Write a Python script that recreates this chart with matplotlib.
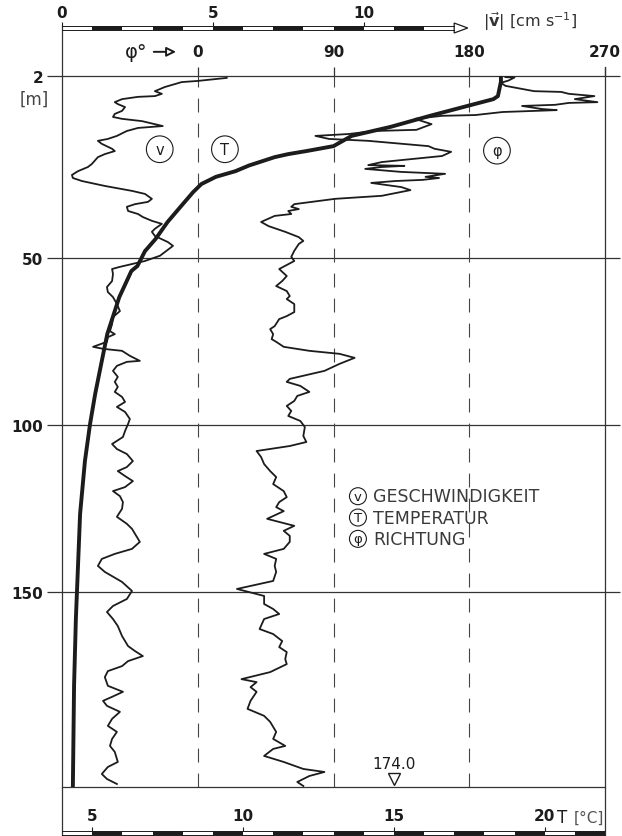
import matplotlib
matplotlib.use('agg')
import matplotlib.pyplot as plt
import numpy as np
from matplotlib.patches import Rectangle, Polygon

plt.rcParams['font.family'] = ['DejaVu Sans']
plt.rcParams['lines.scale_dashes'] = False
INK = '#1c1c1c'

# ---- data ----
# temperature, thick smooth curve
T_depth = [2.2, 3.5, 5.4, 7.3, 8.1, 10.4, 12.5, 15.4, 17.8, 20.5,
           21.8, 22.6, 23.4, 24.7, 25.6, 27.1, 28.6, 30.5, 32.6, 36.3,
           40.5, 45.0, 48.2, 52.4, 53.9, 61.7, 72.8, 81.7, 90.7, 99.7,
           110.8, 126.6, 158.0, 178.0, 208.4]
T_temp = [18.55, 18.55, 18.5, 18.45, 18.3, 17.2, 16.2, 14.9, 13.6, 13.0,
          12.1, 11.5, 11.05, 10.55, 10.2, 9.75, 9.1, 8.62, 8.35, 7.95,
          7.5, 7.1, 6.75, 6.5, 6.3, 5.9, 5.5, 5.3, 5.1, 4.93,
          4.76, 4.6, 4.46, 4.4, 4.36]

# current speed |v| (cm/s)
v_depth = [2.5, 3.3, 3.6, 4.9, 6.0, 6.7, 7.3, 7.5, 8.1, 8.9,
           9.4, 10.2, 11.2, 12.0, 12.8, 13.3, 13.9, 14.7, 15.2, 15.7,
           16.5, 17.8, 18.6, 19.1, 19.9, 21.2, 21.8, 22.6, 23.4, 25.2,
           26.0, 27.1, 28.1, 28.9, 29.7, 31.0, 32.3, 33.1, 34.4, 35.2,
           35.8, 36.5, 37.6, 38.4, 39.2, 40.2, 41.0, 42.3, 43.1, 44.2,
           45.8, 46.8, 49.4, 50.9, 52.7, 53.3, 54.8, 56.9, 58.7, 60.2,
           61.7, 63.8, 65.9, 67.7, 69.8, 71.9, 72.8, 73.7, 75.1, 76.6,
           77.2, 77.8, 79.3, 80.8, 81.1, 82.3, 83.8, 85.6, 87.1, 88.6,
           90.1, 91.6, 93.1, 94.6, 96.1, 98.2, 99.7, 101.8, 103.6, 105.7,
           107.2, 108.7, 110.8, 112.6, 113.8, 115.3, 116.8, 118.6, 119.8, 121.3,
           123.1, 125.1, 127.5, 129.6, 131.1, 135.0, 137.1, 138.6, 140.1, 142.2,
           144.0, 147.0, 149.7, 152.1, 154.2, 156.0, 158.1, 160.2, 163.2, 166.2,
           167.7, 169.2, 170.7, 172.2, 173.7, 175.5, 178.1, 179.9, 181.4, 182.6,
           184.1, 185.9, 188.0, 190.1, 191.9, 194.0, 196.1, 197.9, 200.9, 202.4,
           204.5, 206.0, 207.5]
v_speed = [5.46, 4.50, 3.97, 3.41, 3.08, 3.31, 3.08, 2.52, 1.99, 1.75,
           1.85, 2.09, 1.99, 1.75, 1.69, 1.99, 2.65, 3.08, 3.34, 2.52,
           2.15, 1.82, 1.52, 1.19, 1.32, 1.66, 1.75, 1.42, 1.19, 0.99,
           0.86, 0.53, 0.33, 0.36, 0.66, 1.42, 2.32, 2.75, 2.98, 2.85,
           2.42, 2.15, 2.19, 2.52, 2.68, 2.98, 3.31, 3.08, 2.98, 3.08,
           3.51, 3.68, 3.25, 2.75, 1.90, 1.66, 1.69, 1.66, 1.49, 1.52,
           1.69, 1.82, 1.92, 1.69, 1.66, 1.59, 1.75, 1.52, 1.49, 1.03,
           1.36, 1.99, 2.25, 2.58, 2.15, 1.82, 1.69, 1.85, 1.75, 1.85,
           1.75, 1.99, 2.09, 1.82, 2.09, 2.25, 2.19, 2.09, 2.02, 1.66,
           1.82, 2.15, 2.35, 2.15, 1.85, 2.09, 2.35, 2.09, 1.69, 1.92,
           2.02, 1.99, 1.82, 2.15, 2.32, 2.58, 2.32, 1.75, 1.32, 1.19,
           1.42, 1.99, 2.32, 2.15, 1.69, 1.49, 1.69, 1.85, 1.99, 2.19,
           2.42, 2.68, 2.19, 1.99, 1.52, 1.42, 1.52, 2.02, 1.66, 1.36,
           1.49, 1.92, 1.66, 1.52, 1.82, 1.66, 1.59, 1.75, 1.85, 1.52,
           1.32, 1.49, 1.82]

# current direction phi (degrees)
phi_depth = [2.3, 2.4, 3.2, 3.8, 4.6, 5.4, 6.0, 6.2, 6.7, 7.3,
             8.1, 8.9, 9.1, 9.6, 9.9, 10.7, 11.0, 11.2, 11.5, 12.3,
             12.5, 13.3, 14.7, 16.2, 16.5, 17.3, 17.8, 18.6, 19.1, 20.5,
             21.2, 22.0, 23.1, 23.9, 24.7, 25.5, 25.7, 26.0, 26.5, 27.3,
             27.8, 28.6, 28.9, 29.4, 29.7, 30.2, 31.3, 32.1, 33.6, 34.4,
             35.8, 36.5, 37.1, 37.6, 38.4, 38.9, 40.5, 41.6, 43.1, 44.5,
             45.5, 46.3, 48.1, 49.7, 50.9, 53.3, 55.4, 56.9, 58.4, 59.9,
             61.4, 62.3, 63.8, 66.2, 67.4, 68.3, 70.4, 71.3, 72.8, 74.3,
             75.1, 76.6, 77.8, 78.7, 79.9, 81.7, 83.8, 86.2, 87.1, 88.3,
             90.1, 91.3, 92.8, 94.3, 95.8, 97.3, 98.8, 100.6, 103.3, 105.1,
             106.3, 107.8, 109.6, 111.7, 113.8, 115.6, 117.7, 119.8, 121.6, 123.1,
             124.6, 125.8, 128.1, 130.2, 131.7, 133.2, 135.0, 137.1, 138.6, 140.1,
             142.2, 144.0, 146.7, 149.1, 151.2, 153.6, 155.1, 156.6, 158.1, 161.1,
             162.6, 164.7, 166.5, 168.0, 170.1, 171.6, 174.0, 176.1, 177.0, 178.5,
             179.9, 182.6, 185.0, 187.1, 188.9, 191.9, 194.0, 196.1, 197.0, 199.1,
             200.9, 203.0, 203.9, 205.1, 206.9, 208.1]
phi_deg = [204, 210, 206, 201, 204, 215, 223, 241, 246, 263,
           250, 265, 246, 237, 215, 228, 238, 223, 202, 184,
           162, 144, 155, 145, 117, 100, 78, 87, 113, 153,
           157, 168, 162, 142, 122, 113, 137, 122, 111, 135,
           164, 151, 160, 149, 131, 115, 135, 141, 122, 91,
           64, 62, 67, 60, 62, 51, 42, 47, 58, 67,
           70, 67, 64, 62, 64, 54, 59, 56, 52, 59,
           61, 59, 64, 64, 59, 54, 51, 48, 50, 49,
           52, 57, 74, 94, 104, 94, 84, 61, 59, 68,
           74, 66, 64, 59, 62, 60, 68, 71, 70, 72,
           61, 39, 42, 44, 48, 52, 50, 57, 59, 54,
           52, 57, 46, 64, 57, 61, 61, 57, 44, 52,
           51, 52, 50, 26, 44, 44, 50, 54, 44, 41,
           50, 56, 54, 59, 58, 59, 48, 29, 39, 35,
           39, 35, 33, 44, 48, 52, 50, 58, 50, 44,
           57, 70, 84, 74, 66, 70]

depth_ticks = [2, 50, 100, 150]
phi_ticks = [0, 90, 180, 270]
v_ticks = [0, 5, 10]
T_ticks = [5, 10, 15, 20]
bottom_mark_T = 15.0
bottom_mark_label = '174.0'

assert len(v_depth) == len(v_speed)
assert len(phi_depth) == len(phi_deg)
assert len(T_depth) == len(T_temp)


# depth axis: upper band drawn a little stretched, as in the original
def depth_fwd(d):
    return np.interp(d, [-1000, 2, 50, 1000], [-3797.6, 0, 182, 3355])


def depth_inv(p):
    return np.interp(p, [-3797.6, 0, 182, 3355], [-1000, 2, 50, 1000])


fig = plt.figure(figsize=(6.22, 8.37), dpi=100)
ax = fig.add_axes([62 / 622, 49 / 837, 543 / 622, 711 / 837])
ax.set_yscale('function', functions=(depth_fwd, depth_inv))
ax.set_ylim(208.4, 2)
ax.set_xlim(-90, 270)

ax_v = ax.twiny()
ax_v.set_xlim(0, 18)
ax_T = ax.twiny()
ax_T.set_xlim(4, 22)

for a in (ax, ax_v, ax_T):
    for s in a.spines.values():
        s.set_visible(False)
    a.patch.set_visible(False)

# depth ticks: extended gridlines left/right
ax.set_yticks(depth_ticks)
ax.set_yticklabels([str(d) for d in depth_ticks])
ax.tick_params(axis='y', left=True, right=True, direction='out', length=11,
               width=0.9, color='#333333', pad=2.5, labelsize=11, labelcolor=INK)
for lab in ax.get_yticklabels():
    lab.set_fontweight('bold')
for d in depth_ticks:
    ax.axhline(d, color='#333333', lw=0.9, clip_on=False, zorder=1)

# phi ticks on top
ax.xaxis.tick_top()
ax.set_xticks(phi_ticks)
ax.set_xticklabels([str(p) for p in phi_ticks])
ax.tick_params(axis='x', top=True, bottom=False, labeltop=True, labelbottom=False,
               direction='out', length=6.5, width=0.9, color='#333333', pad=6,
               labelsize=11, labelcolor=INK)
for lab in ax.get_xticklabels():
    lab.set_fontweight('bold')
for p in phi_ticks[:-1]:
    ax.axvline(p, color='#444444', lw=0.8, ls=(0, (10, 8)), zorder=1)

# frame lines
ax.plot([0, 0], [-0.0675, 1.0703], transform=ax.transAxes, color='#333333',
        lw=0.9, clip_on=False)
ax.plot([1, 1], [-0.0675, 1.0127], transform=ax.transAxes, color='#333333',
        lw=0.9, clip_on=False)
ax.plot([0, 1], [0, 0], transform=ax.transAxes, color='#333333', lw=0.9,
        clip_on=False)


def scale_bar(axx, lo, hi, y0, y1, step):
    tr = axx.get_xaxis_transform()
    a = lo + step
    while a < hi - 1e-9:
        axx.add_patch(Rectangle((a, y0), step, y1 - y0, transform=tr, fc=INK,
                                ec='none', clip_on=False))
        a += 2 * step
    for yy in (y0, y1):
        axx.plot([lo, hi], [yy, yy], transform=tr, color=INK, lw=0.7,
                 clip_on=False)


# |v| scale at the top
ax_v.spines['top'].set_position(('axes', 1.0703))
ax_v.xaxis.set_ticks_position('top')
ax_v.set_xticks(v_ticks)
ax_v.set_xticklabels([str(t) for t in v_ticks])
ax_v.tick_params(axis='x', top=True, bottom=False, labeltop=True, labelbottom=False,
                 direction='out', length=3, width=0.8, pad=1.5, labelsize=11,
                 labelcolor=INK, color=INK)
for lab in ax_v.get_xticklabels():
    lab.set_fontweight('bold')
scale_bar(ax_v, 0, 13.0, 1.0647, 1.0703, 1.0)
ax_v.add_patch(Polygon([(13.0, 1.0605), (13.45, 1.0675), (13.0, 1.0745)],
                       closed=True, transform=ax_v.get_xaxis_transform(),
                       fc='white', ec=INK, lw=0.9, clip_on=False))
ax_v.text(13.95, 1.078, r'$|\vec{\mathbf{v}}|$ [cm s$^{-1}$]',
          transform=ax_v.get_xaxis_transform(), ha='left', va='center',
          fontsize=11.5, color='#333333')

# T scale at the bottom
ax_T.spines['top'].set_position(('axes', -0.0619))
ax_T.xaxis.set_ticks_position('top')
ax_T.set_xticks(T_ticks)
ax_T.set_xticklabels([str(t) for t in T_ticks])
ax_T.tick_params(axis='x', top=True, bottom=False, labeltop=True, labelbottom=False,
                 direction='out', length=3, width=0.8, pad=2.5, labelsize=11,
                 labelcolor=INK, color=INK)
for lab in ax_T.get_xticklabels():
    lab.set_fontweight('bold')
scale_bar(ax_T, 4, 22, -0.0675, -0.0619, 1.0)
ax_T.text(20.42, -0.042, 'T', transform=ax_T.get_xaxis_transform(), ha='left',
          va='center', fontsize=12, color=INK)
ax_T.text(20.98, -0.042, '[°C]', transform=ax_T.get_xaxis_transform(), ha='left',
          va='center', fontsize=11, color='#555555')

# curves
ax_v.plot(v_speed, v_depth, color=INK, lw=1.3, solid_joinstyle='round')
ax.plot(phi_deg, phi_depth, color=INK, lw=1.3, solid_joinstyle='round')
ax_T.plot(T_temp, T_depth, color=INK, lw=2.8, solid_joinstyle='round',
          solid_capstyle='round')

# bottom marker
ax_T.plot([bottom_mark_T], [0.011], transform=ax_T.get_xaxis_transform(),
          marker='v', ms=8.5, mfc='white', mec=INK, mew=1.0, ls='none',
          clip_on=False)
ax_T.text(bottom_mark_T, 0.033, bottom_mark_label,
          transform=ax_T.get_xaxis_transform(), ha='center', va='center',
          fontsize=11, color=INK)

# labels
ax.text(-0.052, 0.968, '[m]', transform=ax.transAxes, ha='center', va='center',
        fontsize=12, color='#444444')
ax.text(0.137, 1.034, 'φ°', transform=ax.transAxes, ha='center', va='center',
        fontsize=14, color=INK)
ax.annotate('', xy=(0.21, 1.034), xytext=(0.169, 1.034), xycoords='axes fraction',
            annotation_clip=False,
            arrowprops=dict(arrowstyle='-|>', fc='white', ec=INK, lw=1.4,
                            mutation_scale=14, shrinkA=0, shrinkB=0))

circ = dict(boxstyle='circle,pad=0.4', fc='white', ec=INK, lw=0.8)
ax.text(0.180, 0.897, 'v', transform=ax.transAxes, ha='center', va='center',
        fontsize=10.5, color=INK, bbox=circ)
ax.text(0.300, 0.897, 'T', transform=ax.transAxes, ha='center', va='center',
        fontsize=10.5, color=INK, bbox=circ)
ax.text(0.801, 0.895, 'φ', transform=ax.transAxes, ha='center', va='center',
        fontsize=10.5, color=INK, bbox=circ)

legend_items = [('v', 'GESCHWINDIGKEIT'), ('T', 'TEMPERATUR'), ('φ', 'RICHTUNG')]
circ_small = dict(boxstyle='circle,pad=0.15', fc='white', ec=INK, lw=0.8)
for i, (sym, name) in enumerate(legend_items):
    yy = 0.409 - i * 0.030
    ax.text(0.545, yy, sym, transform=ax.transAxes, ha='center', va='center',
            fontsize=9.5, color=INK, bbox=circ_small)
    ax.text(0.573, yy, name, transform=ax.transAxes, ha='left', va='center',
            fontsize=12.5, color='#3a3a3a')

fig.savefig('out.png', dpi=100)
